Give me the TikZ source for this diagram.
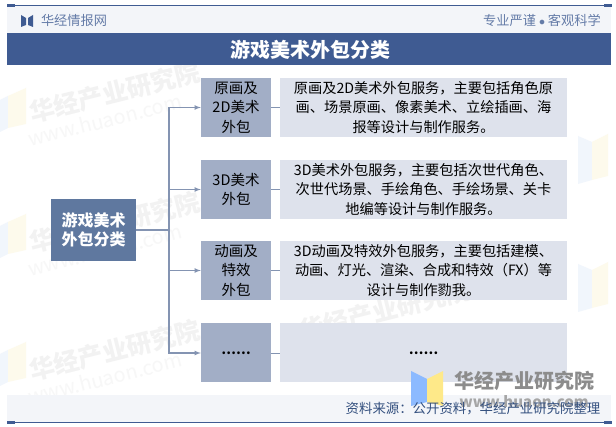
\documentclass[tikz,border=0pt]{standalone}
\usepackage{fontspec}
\usepackage{xcolor}
\usepackage{tikz}
\usetikzlibrary{arrows}
\setmainfont{Noto Sans CJK SC}
\definecolor{barblue}{HTML}{3F5B92}
\definecolor{rootblue}{HTML}{5F789F}
\definecolor{midblue}{HTML}{A2AEC6}
\definecolor{paleblue}{HTML}{DEE2EC}
\definecolor{bandgrey}{HTML}{F3F5F9}
\definecolor{linkblue}{HTML}{8494B2}
\definecolor{inkblue}{HTML}{34507F}
\definecolor{wmblue}{HTML}{F1F6FC}
\definecolor{wmyellow}{HTML}{FDFAEC}
\newcommand{\sizedfont}[1]{\fontsize{#1}{#1}\selectfont}
\tikzset{
	rootbox/.style={fill=rootblue,text=white,minimum width=85pt,minimum height=62pt,align=center,inner sep=0pt,font=\sizedfont{16}\linespread{1.22}\selectfont\bfseries},
	catbox/.style={fill=midblue,minimum width=70pt,minimum height=59pt,align=center,inner sep=0pt,font=\sizedfont{14.5}\linespread{1.35}\selectfont},
	descbox/.style={fill=paleblue,minimum width=287pt,minimum height=59pt,align=center,inner sep=0pt,font=\sizedfont{14.2}\linespread{1.35}\selectfont},
	branch/.style={draw=linkblue,line width=1.1pt,-latex},
	stub/.style={draw=linkblue,line width=.8pt},
	wmname/.style={text=black!5,rotate=14,font=\sizedfont{25}\bfseries},
	wmurl/.style={text=black!3,rotate=14,font=\sizedfont{20}}
}
\begin{document}
\begin{tikzpicture}[x=1pt,y=-1pt]
	\useasboundingbox (0,0) rectangle (616,427);
	\fill[white] (0,0) rectangle (616,427);
	%
	\fill[wmblue] (0,100) -- (8,96) -- (8,128) -- (0,132) -- cycle;
	\fill[wmyellow] (8,96) -- (26,88) -- (26,124) -- (8,128) -- cycle;
	\fill[wmblue] (0,226) -- (8,222) -- (8,254) -- (0,258) -- cycle;
	\fill[wmyellow] (8,222) -- (26,214) -- (26,250) -- (8,254) -- cycle;
	\fill[wmblue] (0,354) -- (8,350) -- (8,382) -- (0,386) -- cycle;
	\fill[wmyellow] (8,350) -- (26,342) -- (26,378) -- (8,382) -- cycle;
	\fill[wmblue] (578,136) -- (592,142) -- (592,180) -- (578,184) -- cycle;
	\fill[wmyellow] (592,142) -- (608,134) -- (608,176) -- (592,180) -- cycle;
	\fill[wmblue] (578,264) -- (592,270) -- (592,308) -- (578,312) -- cycle;
	\fill[wmyellow] (592,270) -- (608,262) -- (608,304) -- (592,308) -- cycle;
	%
	\node[wmname] (markA) at (115,92) {华经产业研究院};
	\node[wmurl] (urlA) at (105,120) {www.huaon.com};
	\node[wmname] (markB) at (115,222) {华经产业研究院};
	\node[wmurl] (urlB) at (105,250) {www.huaon.com};
	\node[wmname] (markC) at (115,350) {华经产业研究院};
	\node[wmurl] (urlC) at (105,378) {www.huaon.com};
	\node[wmname] (markD) at (385,310) {华经产业研究院};
	%
	\fill[bandgrey] (7,6) rectangle (611,33);
	\fill[bandgrey] (7,395) rectangle (611,422);
	\fill[barblue] (7,33) rectangle (611,65);
	\draw[barblue,line width=.8pt] (7,5.5) -- (611,5.5);
	\draw[barblue,line width=.8pt] (7,422) -- (611,422);
	\fill[barblue] (7,4) rectangle (15,7);
	\fill[barblue] (604,4) rectangle (612,7);
	\fill[barblue] (604,421) rectangle (612,424);
	\fill[barblue] (7,421) rectangle (15,424);
	%
	\fill[barblue] (21,15) -- (26,18) -- (26,25) -- (21,27) -- cycle;
	\fill[barblue] (33,15) -- (28,18) -- (28,25) -- (33,27) -- cycle;
	\node[text=barblue!80,font=\sizedfont{13.2}] (site) at (74,20.5) {华经情报网};
	\node[text=barblue!80,font=\sizedfont{13.2}] (motto) at (542,20.5) {专业严谨 $\bullet$ 客观科学};
	\node[text=white,font=\sizedfont{20}\bfseries] (title) at (310,50) {游戏美术外包分类};
	%
	\node[rootbox] (root) at (93.5,230) {游戏美术\\外包分类};
	\node[catbox] (catA) at (236,107.5) {原画及\\2D美术\\外包};
	\node[catbox] (catB) at (236,189.5) {3D美术\\外包};
	\node[catbox] (catC) at (236,270.5) {动画及\\特效\\外包};
	\node[catbox,font=\sizedfont{13}\bfseries] (catD) at (236,353) {……};
	\node[descbox] (descA) at (423.5,107.5) {原画及2D美术外包服务，主要包括角色原\\画、场景原画、像素美术、立绘插画、海\\报等设计与制作服务。};
	\node[descbox] (descB) at (423.5,189.5) {3D美术外包服务，主要包括次世代角色、\\次世代场景、手绘角色、手绘场景、关卡\\地编等设计与制作服务。};
	\node[descbox] (descC) at (423.5,270.5) {3D动画及特效外包服务，主要包括建模、\\动画、灯光、渲染、合成和特效（FX）等\\设计与制作勠我。};
	\node[descbox,font=\sizedfont{13}\bfseries] (descD) at (423.5,353) {……};
	%
	\coordinate (trunk) at (169,230);
	\draw[branch] (root.east) -- (trunk) |- (catA.west);
	\draw[branch] (root.east) -- (trunk) |- (catB.west);
	\draw[branch] (root.east) -- (trunk) |- (catC.west);
	\draw[branch] (root.east) -- (trunk) |- (catD.west);
	\draw[stub] (catA.east) -- (descA.west);
	\draw[stub] (catB.east) -- (descB.west);
	\draw[stub] (catC.east) -- (descC.west);
	\draw[stub] (catD.east) -- (descD.west);
	%
	\fill[blue!60!cyan!45] (411,371) -- (427,379) -- (427,402) -- (411,406) -- cycle;
	\fill[yellow!70!orange!45] (443,371) -- (427,379) -- (427,402) -- (443,406) -- cycle;
	\node[text=black!45,font=\sizedfont{20}\bfseries] (brand) at (524,381) {华经产业研究院};
	\node[text=black!35,font=\sizedfont{15}\bfseries] (brandurl) at (524,402) {www.huaon.com};
	\node[text=inkblue,font=\sizedfont{13.4}] (source) at (473,409) {资料来源：公开资料，华经产业研究院整理};
\end{tikzpicture}
\end{document}
